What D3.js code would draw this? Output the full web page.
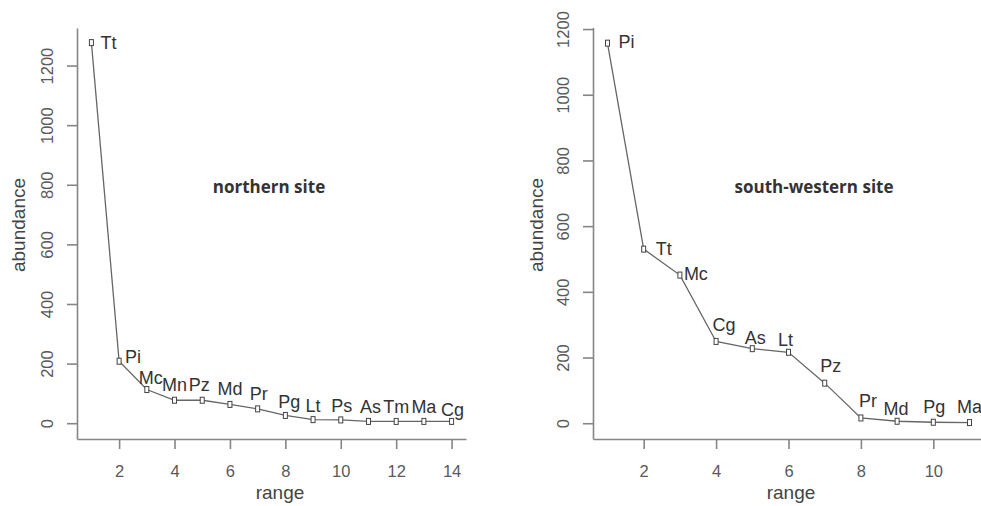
<!DOCTYPE html>
<html lang="en">

<head>
    <meta charset="UTF-8">
    <title>Rank abundance</title>
    <style>
        body { margin: 0; background: #fff; }
        svg { display: block; font-family: "Liberation Sans", Arial, sans-serif; }
    </style>
</head>

<body>
    <svg width="981" height="506"></svg>
    <script src="https://d3js.org/d3.v7.min.js"></script>
    <script>

        // northern site
        let speciesN = ["Tt", "Pi", "Mc", "Mn", "Pz", "Md", "Pr", "Pg", "Lt", "Ps", "As", "Tm", "Ma", "Cg"];
        let abundN = [1277, 208, 113, 77, 77, 63, 48, 26, 12, 11, 6, 6, 6, 6];
        let xTicksN = [2, 4, 6, 8, 10, 12, 14];

        // south-western site
        let speciesS = ["Pi", "Tt", "Mc", "Cg", "As", "Lt", "Pz", "Pr", "Md", "Pg", "Ma"];
        let abundS = [1157, 530, 451, 249, 227, 216, 122, 16, 6, 3, 2];
        let xTicksS = [2, 4, 6, 8, 10];

        let yTicks = [0, 200, 400, 600, 800, 1000, 1200];

        // label nudges in px (layout only): [dx, dy] from the point
        let nudgeN = [[17, 6], [14, 2], [4, -6], [0, -9], [-3, -9], [0, -9], [1, -9], [4, -7], [0, -8], [1, -8], [2, -8], [0, -8], [0, -8], [1, -5]];
        let nudgeS = [[19, 5], [20, 6], [16, 5], [8, -10], [3, -5], [-3, -6], [6, -11], [7, -11], [-1, -6], [1, -9], [0, -10]];

        let svg = d3.select("svg");

        function panel(o) {
            let x = d3.scaleLinear().domain(o.xDomain).range(o.xRange);
            let y = d3.scaleLinear().domain(o.yDomain).range([439, o.top]);
            let ranks = o.values.map((v, i) => i + 1);
            let g = svg.append("g");

            // y axis, labels parallel to the axis
            let ya = g.append("g")
                .attr("transform", "translate(" + o.xRange[0] + ",0)")
                .call(d3.axisLeft(y).tickValues(yTicks).tickSize(10).tickSizeOuter(0).tickFormat(d3.format("d")));
            ya.selectAll(".tick text")
                .attr("transform", "rotate(-90)")
                .attr("x", 0).attr("y", -24).attr("dy", 0)
                .attr("text-anchor", "middle");

            let xa = g.append("g")
                .attr("transform", "translate(0,439)")
                .call(d3.axisBottom(x).tickValues(o.xTicks).tickSize(10).tickSizeOuter(0));
            xa.selectAll(".tick text").attr("y", 38).attr("dy", 0);

            g.selectAll(".domain, .tick line").attr("stroke", "#858585").attr("stroke-width", 1.6);
            g.selectAll(".tick text").attr("fill", "#5a5a5a").attr("font-size", 16.5).attr("font-family", null);

            g.append("path")
                .datum(o.values)
                .attr("fill", "none")
                .attr("stroke", "#666")
                .attr("stroke-width", 1.3)
                .attr("d", d3.line().x((d, i) => x(i + 1)).y(d => y(d)));

            g.selectAll("rect.pt")
                .data(o.values)
                .join("rect")
                .attr("class", "pt")
                .attr("x", (d, i) => x(i + 1) - 2)
                .attr("y", d => y(d) - 3)
                .attr("width", 4)
                .attr("height", 6)
                .attr("fill", "#fff")
                .attr("stroke", "#444")
                .attr("stroke-width", 1);

            g.selectAll("text.sp")
                .data(o.values)
                .join("text")
                .attr("class", "sp")
                .attr("x", (d, i) => x(i + 1) + o.nudge[i][0])
                .attr("y", d => y(d))
                .attr("dy", (d, i) => o.nudge[i][1])
                .attr("text-anchor", "middle")
                .attr("font-size", 18)
                .attr("fill", "#333")
                .text((d, i) => o.species[i]);

            g.append("text")
                .attr("x", o.titleX).attr("y", 192.5)
                .attr("text-anchor", "middle")
                .attr("font-family", "'Open Sans', sans-serif")
                .attr("font-weight", 700)
                .attr("font-size", 17)
                .attr("fill", "#333")
                .text(o.title);

            g.append("text")
                .attr("x", o.xlabX).attr("y", 499)
                .attr("text-anchor", "middle")
                .attr("font-size", 19)
                .attr("fill", "#444")
                .text("range");

            g.append("text")
                .attr("transform", "translate(" + o.ylabX + ",225) rotate(-90)")
                .attr("text-anchor", "middle")
                .attr("font-size", 19)
                .attr("fill", "#444")
                .text("abundance");
        }

        panel({
            species: speciesN, values: abundN, xTicks: xTicksN, nudge: nudgeN,
            xDomain: [0.48, 14.52], xRange: [77, 466],
            yDomain: [-53, 1326], top: 28,
            title: "northern site", titleX: 269, xlabX: 280, ylabX: 25
        });

        panel({
            species: speciesS, values: abundS, xTicks: xTicksS, nudge: nudgeS,
            xDomain: [0.6, 11.4], xRange: [593, 984],
            yDomain: [-48, 1205], top: 27.4,
            title: "south-western site", titleX: 814, xlabX: 791, ylabX: 543
        });

    </script>

</body>

</html>
